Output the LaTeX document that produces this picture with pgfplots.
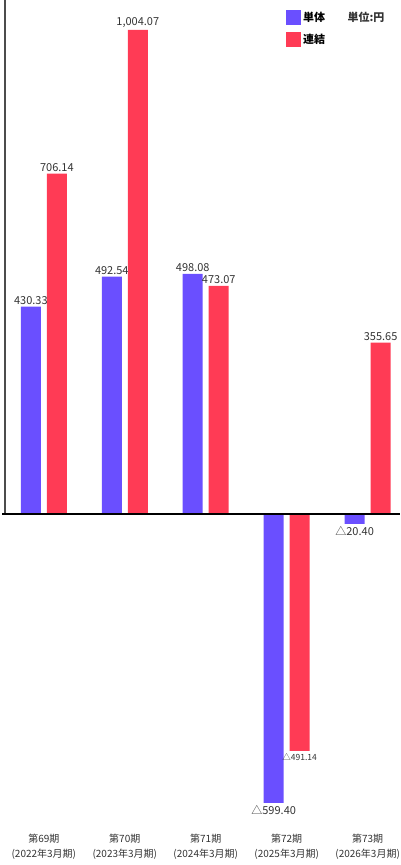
\documentclass[border=0pt]{standalone}
\usepackage{fontspec}
\setmainfont{Noto Sans CJK JP}
\usepackage{pgfplots}
\pgfplotsset{compat=1.18}
\definecolor{cblue}{HTML}{6A4FFF}
\definecolor{cred}{HTML}{FF3B55}
\definecolor{ctext}{HTML}{333333}
\begin{document}
\begin{tikzpicture}
\useasboundingbox (0,0) rectangle (400pt,865pt);
\begin{axis}[
  at={(5pt,45pt)}, anchor=south west,
  scale only axis, width=395pt, height=820pt,
  xmin=-0.48, xmax=4.4, ymin=-634.7, ymax=1066.2,
  axis line style={draw=none}, clip=false,
  major tick length=0pt, ytick=\empty,
  xtick={0,1,2,3,4},
  xticklabels={{第69期\\(2022年3月期)},{第70期\\(2023年3月期)},{第71期\\(2024年3月期)},{第72期\\(2025年3月期)},{第73期\\(2026年3月期)}},
  xticklabel style={align=center, font=\fontsize{10}{15}\selectfont, text=ctext, yshift=-11pt},
  ybar=6pt, bar width=20pt,
  nodes near coords={\pgfplotspointmeta},
  point meta=explicit symbolic,
  visualization depends on={y \as \rawy},
  every node near coord/.append style={font=\fontsize{11}{11}\selectfont, text=ctext, inner sep=2pt,
    /utils/exec={\ifdim\rawy pt<0pt \gdef\myanchor{north}\else\gdef\myanchor{south}\fi},
    anchor=\myanchor},
  legend style={at={(0.711,0.988)}, anchor=north west, draw=none, fill=none,
    font=\bfseries\fontsize{11}{11}\selectfont, row sep=7pt, inner sep=0pt,
    /tikz/every even column/.append style={column sep=6pt}},
  legend cell align=left,
  legend image code/.code={\fill[#1,draw=none] (0pt,-7.5pt) rectangle (15pt,7.5pt);},
]
\addplot[fill=cblue, draw=none] coordinates {
  (0,430.33) [430.33]
  (1,492.54) [492.54]
  (2,498.08) [498.08]
  (3,-599.40) [△599.40]
  (4,-20.40) [△20.40]
};
\addlegendentry{単体}
\addplot[fill=cred, draw=none] coordinates {
  (0,706.14) [706.14]
  (1,1004.07) [1,004.07]
  (2,473.07) [473.07]
  (3,-491.14) [{\fontsize{8.5}{9}\selectfont △491.14}]
  (4,355.65) [355.65]
};
\addlegendentry{連結}
\draw[black!70, line width=1.5pt] (axis cs:-0.48,0) -- (axis cs:-0.48,1066.2);
\draw[black, line width=1.2pt] (axis cs:-0.517,0) -- (axis cs:4.4,0);
\node[font=\bfseries\fontsize{11}{11}\selectfont, text=ctext] at (rel axis cs:0.914,0.979) {単位:円};
\end{axis}
\end{tikzpicture}
\end{document}
